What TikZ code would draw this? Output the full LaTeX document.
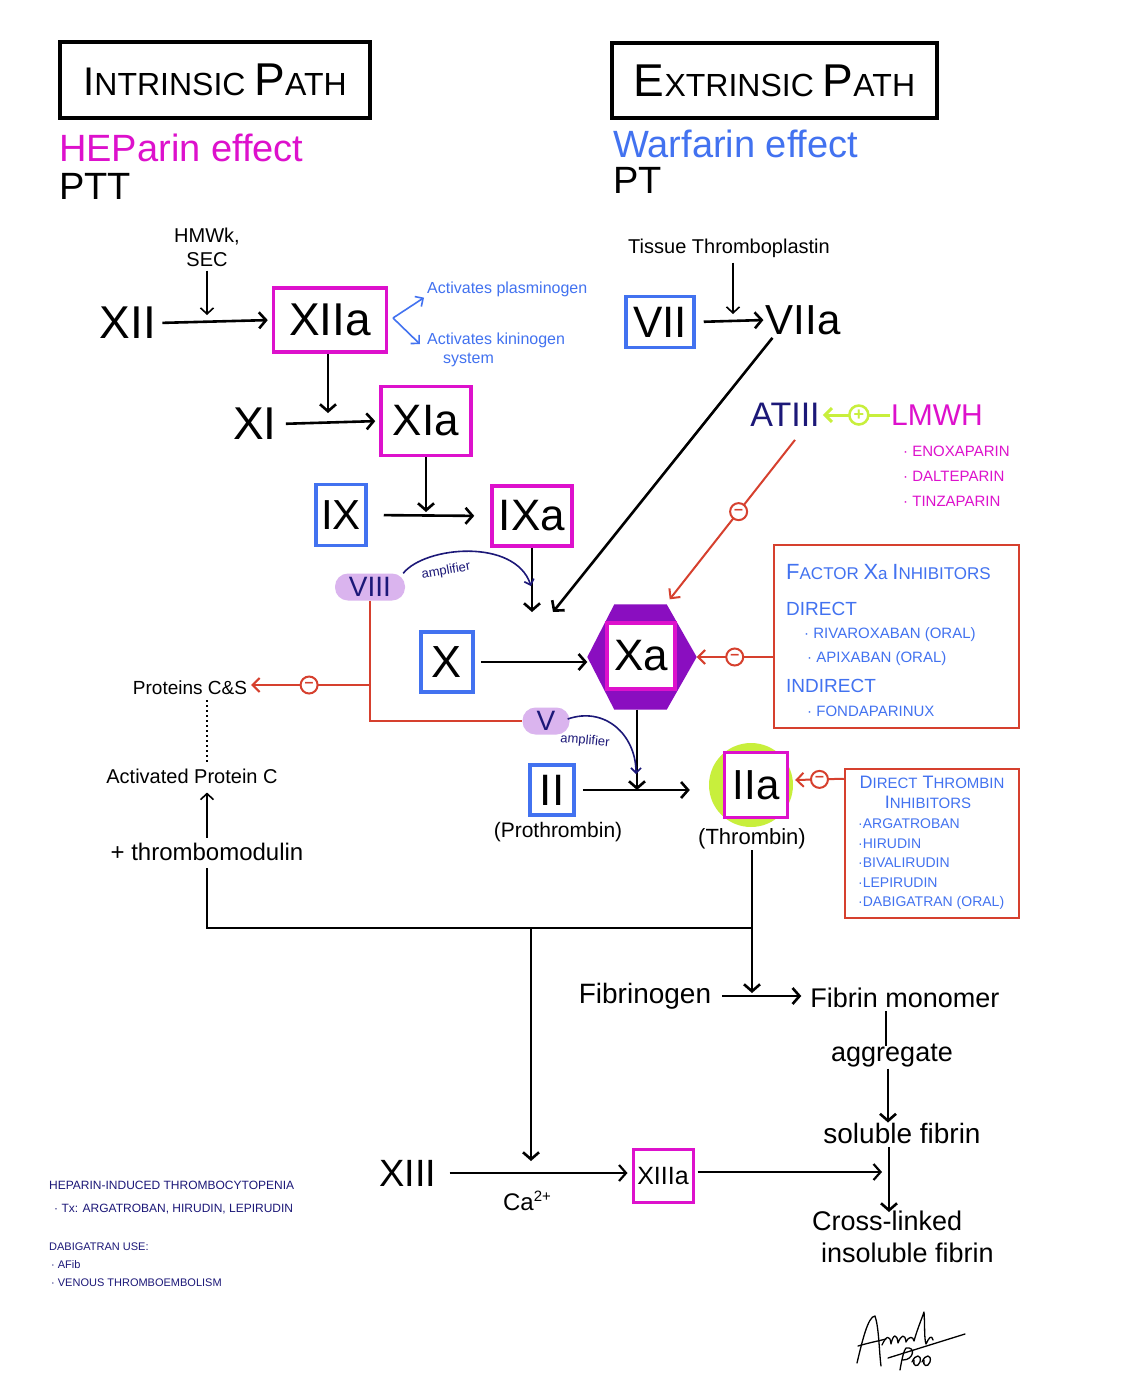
\documentclass[tikz,border=0pt]{standalone}
\usepackage{fontspec}
\setmainfont{Liberation Sans}
\usetikzlibrary{arrows.meta,calc}
\definecolor{mag}{HTML}{DD11CC}
\definecolor{blu}{HTML}{4272F0}
\definecolor{navy}{HTML}{1C1878}
\definecolor{rd}{HTML}{D6402E}
\definecolor{lime}{HTML}{C8EF3C}
\definecolor{lav}{HTML}{DAB4EE}
\definecolor{purp}{HTML}{8A0EC0}
\newcommand\fs[1]{\fontsize{#1}{\fpeval{round(#1*1.2)}}\selectfont}
\begin{document}
\begin{tikzpicture}[x=1pt,y=-1pt,
  txt/.style={inner sep=1pt,font=\fs{#1}},
  titlebox/.style={draw,line width=3.5pt,inner sep=0pt},
  mbox/.style={draw=mag,line width=3.5pt,inner sep=0pt,fill=white},
  bbox/.style={draw=blu,line width=3.5pt,inner sep=0pt},
  rbox/.style={draw=rd,line width=2.5pt,inner sep=0pt},
  pill/.style={fill=lav,rounded corners=13pt,inner sep=0pt,text=navy},
  arr/.style={line width=2.6pt,-{Straight Barb[length=7pt,width=16pt]}},
  tarr/.style={line width=1.6pt,-{Straight Barb[length=6pt,width=13pt]}},
  bline/.style={line width=2.6pt},
  barr/.style={draw=blu,line width=1.6pt,-{Straight Barb[length=6pt,width=12pt]}},
  rline/.style={draw=rd,line width=2pt},
  rarr/.style={draw=rd,line width=2pt,-{Straight Barb[length=7pt,width=14pt]}},
  namp/.style={draw=navy,line width=1.6pt,-{Straight Barb[length=5pt,width=10pt]}},
  minc/.style={circle,draw=rd,line width=2pt,fill=white,minimum size=17pt,inner sep=0pt,text=rd,font=\fs{16}\bfseries},
  plusc/.style={circle,draw=lime,line width=2.5pt,fill=white,minimum size=19pt,inner sep=0pt,text=lime,font=\fs{18}\bfseries},
]
\fill[white] (0,0) rectangle (1133,1400);
\useasboundingbox (0,0) rectangle (1133,1400);

% ---- titles
\node[titlebox,minimum width=310pt,minimum height=76pt,font=\fs{32}] (tI) at (215,80) {{\fs{40}I}NTRINSIC {\fs{46}P}ATH};
\node[titlebox,minimum width=325pt,minimum height=75pt,font=\fs{32}] (tE) at (774.5,80.5) {{\fs{46}E}XTRINSIC {\fs{46}P}ATH};
\node[txt=38,text=mag,anchor=west] (hep) at (58,148) {HEParin effect};
\node[txt=38,anchor=west] (ptt) at (58,186) {PTT};
\node[txt=38,text=blu,anchor=west] (war) at (612,144) {Warfarin effect};
\node[txt=38,anchor=west] (pt) at (612,180) {PT};

% ---- intrinsic cascade
\node[txt=20,align=center] (hmwk) at (207,247) {HMWk,\\SEC};
\node[txt=46] (XII) at (128,323) {XII};
\node[mbox,minimum width=113pt,minimum height=64pt,font=\fs{46}] (XIIa) at (330,320) {XIIa};
\draw[arr,shorten <=5pt,shorten >=4pt] (XII.east) -- (XIIa.west);
\draw[tarr] ($(hmwk.south)+(0,3)$) -- ($(hmwk.south |- XIIa.center)+(0,-5)$);

\coordinate (fork) at (393,318);
\node[txt=16,text=blu,anchor=west] (plas) at (426,289) {Activates plasminogen};
\node[txt=16,text=blu,anchor=north west,align=left] (kin) at (426,332) {Activates kininogen\\\hspace*{16pt}system};
\draw[barr] (fork) -- ($(plas.south west)+(-2,0)$);
\draw[barr] (fork) -- ($(kin.west)+(-6,-6)$);

\node[txt=46] (XI) at (255,424) {XI};
\node[mbox,minimum width=90pt,minimum height=69pt,font=\fs{44}] (XIa) at (426,421) {XIa};
\draw[arr,shorten >=8pt] ($(XIIa.south)+(-2,0)$) -- ($(XIIa.south |- XIa.center)+(-2,0)$);
\draw[arr,shorten <=8pt,shorten >=4pt] (XI.east) -- (XIa.west);

\node[bbox,minimum width=50pt,minimum height=61pt,font=\fs{42}] (IX) at (341,515) {IX};
\node[mbox,minimum width=80pt,minimum height=60pt,font=\fs{44}] (IXa) at (532,516) {IXa};
\draw[arr,shorten <=16pt,shorten >=16pt] (IX.east) -- (IXa.west);
\draw[arr,shorten >=3pt] (XIa.south) -- (XIa.south |- IX.center);

\coordinate (cA) at (532,612);
\draw[arr] (IXa.south) -- (cA);

\node[pill,minimum width=70pt,minimum height=27pt,font=\fs{28}] (VIII) at (370,587) {VIII};
\draw[namp] ($(VIII.north east)+(-2,0)$) .. controls (425,546) and (515,538) .. (531,586);
\node[txt=13,text=navy,rotate=10] (amp1) at (446,571) {amplifier};

% ---- extrinsic
\node[txt=20] (tiss) at (729,248) {Tissue Thromboplastin};
\node[bbox,minimum width=68pt,minimum height=51pt,font=\fs{44}] (VII) at (660,322) {VII};
\node[txt=42] (VIIa) at (803,320) {VIIa};
\draw[arr,shorten <=8pt,shorten >=1pt] (VII.east) -- (VIIa.west);
\draw[tarr] ($(tiss.south)+(4,4)$) -- ($(tiss.south |- VII.center)+(4,-8)$);
\coordinate (cB) at (553,612);
\draw[arr] ($(VIIa.south west)+(8,2)$) -- (cB);

% ---- ATIII / LMWH
\node[txt=34,text=navy] (AT) at (785,415) {ATIII};
\node[txt=30,text=mag] (LMWH) at (937,415) {LMWH};
\draw[draw=lime,line width=3pt,-{Straight Barb[length=7pt,width=14pt]},shorten >=2pt] (LMWH.west) -- (AT.east) node[plusc,pos=0.45] {+};
\node[text=mag,anchor=north west,align=left,inner sep=1pt,font=\fontsize{15}{25}\selectfont] (lmwhl) at (902,445) {· ENOXAPARIN\\· DALTEPARIN\\· TINZAPARIN};

% ---- Xa
\node[minimum width=109pt,minimum height=105pt,inner sep=0pt] (XaHex) at (642,657) {};
\fill[purp] (XaHex.west) -- ($(XaHex.north west)+(27,0)$) -- ($(XaHex.north east)+(-30,0)$) -- (XaHex.east) -- ($(XaHex.south east)+(-30,0)$) -- ($(XaHex.south west)+(27,0)$) -- cycle;
\node[mbox,minimum width=68pt,minimum height=66pt,font=\fs{44}] (Xa) at (641,656) {Xa};
\node[bbox,minimum width=52pt,minimum height=60pt,font=\fs{45}] (X) at (447,662) {X};
\draw[arr,shorten <=6pt] (X.east) -- (XaHex.west |- X.east);

\draw[rarr] ($(AT.south)+(10,12)$) -- ($(XaHex.north east)+(-27,-5)$) node[minc,pos=0.45] {–};

\node[rbox,minimum width=245pt,minimum height=183pt] (FXa) at (896.5,636.5) {};
\node[txt=17,text=blu,anchor=west] (fx1) at (785,572) {{\fs{22}F}ACTOR {\fs{22}X}a {\fs{22}I}NHIBITORS};
\node[txt=19,text=blu,anchor=west] (fx2) at (785,609) {DIRECT};
\node[txt=15,text=blu,anchor=west] (fx3) at (803,635) {· RIVAROXABAN (ORAL)};
\node[txt=15,text=blu,anchor=west] (fx4) at (806,659) {· APIXABAN (ORAL)};
\node[txt=19,text=blu,anchor=west] (fx5) at (785,686) {INDIRECT};
\node[txt=15,text=blu,anchor=west] (fx6) at (806,711) {· FONDAPARINUX};
\draw[rarr] (FXa.west |- XaHex.east) -- (XaHex.east) node[minc,pos=0.5] {–};

% ---- II / IIa
\node[bbox,minimum width=44pt,minimum height=50pt,font=\fs{44}] (II) at (552,790) {II};
\node[txt=21] (proth) at (558,832) {(Prothrombin)};
\node[circle,fill=lime,minimum size=84pt,inner sep=0pt] (IIac) at (751,785) {};
\node[mbox,minimum width=63pt,minimum height=65pt,font=\fs{42}] (IIa) at (756,785) {IIa};
\node[txt=22] (thromb) at (752,839) {(Thrombin)};
\draw[arr,shorten <=7pt,shorten >=19pt] (II.east) -- (IIac.west |- II.east);
\coordinate (cC) at (637,790);
\draw[arr] ($(XaHex.south)+(-5,0)$) -- (cC);

\node[pill,minimum width=47pt,minimum height=27pt,font=\fs{28}] (V) at (546,721) {V};
\draw[namp] ($(V.east)+(-2,-2)$) .. controls (605,706) and (636,735) .. (636,774);
\node[txt=13,text=navy,rotate=-5] (amp2) at (585,741) {amplifier};

\node[rbox,minimum width=174pt,minimum height=149pt] (DTI) at (932,843.5) {};
\node[text=blu,inner sep=1pt,font=\fs{18}] (dt1) at (932,782) {D{\fs{15}IRECT} T{\fs{15}HROMBIN}};
\node[text=blu,inner sep=1pt,font=\fs{18}] (dt2) at (928,802) {I{\fs{15}NHIBITORS}};
\node[text=blu,anchor=north west,align=left,inner sep=1pt,font=\fontsize{14}{19.5}\selectfont] (dtl) at (857,818) {·ARGATROBAN\\·HIRUDIN\\·BIVALIRUDIN\\·LEPIRUDIN\\·DABIGATRAN (ORAL)};
\draw[rarr] ($(DTI.north west)+(0,11)$) -- ($(IIac.east)+(2,-5)$) node[minc,pos=0.5] {–};

% ---- protein C
\node[txt=19] (ProtCS) at (190,688) {Proteins C\&S};
\node[txt=20] (APC) at (192,776) {Activated Protein C};
\node[txt=24] (tm) at (207,852) {+ thrombomodulin};
\draw[rline] (VIII.south) -- (VIII.south |- V.west) -- (V.west);
\coordinate (br) at (370,685);
\draw[rarr,shorten >=3pt] (br) -- (ProtCS.east |- br) node[minc,pos=0.5] {–};
\draw[line width=2pt,dash pattern=on 2pt off 3pt] ($(ProtCS.south)+(17,4)$) -- ($(APC.north)+(15,-4)$);
\draw[tarr,shorten <=4pt,shorten >=8pt] (tm.north) -- (tm.north |- APC.south);

% ---- common pathway
\coordinate (j1) at (207,928);
\coordinate (j2) at (531,928);
\coordinate (j3) at (752,928);
\draw[bline] ($(tm.south)+(0,6)$) -- (tm.south |- j1) -- (j3) -- (thromb.south);

\node[txt=28] (fibgn) at (645,996) {Fibrinogen};
\node[txt=27] (fmono) at (905,998) {Fibrin monomer};
\draw[arr,shorten <=10pt,shorten >=8pt] (fibgn.east) -- (fmono.west |- fibgn.east);
\draw[arr,shorten >=3pt] (j3) -- (j3 |- fibgn.east);
\node[txt=27] (agg) at (892,1056) {aggregate};
\draw[bline] ($(fmono.south)+(-19,2)$) -- ($(agg.north)+(-6,3)$);
\node[txt=28] (sol) at (902,1133) {soluble fibrin};
\draw[arr] ($(agg.south)+(-4,0)$) -- ($(sol.north)+(-14,1)$);
\node[txt=27,align=left,anchor=north west] (cross) at (811,1210) {Cross-linked\\\hspace*{9pt}insoluble fibrin};
\draw[arr] ($(sol.south)+(-13,3)$) -- ($(cross.north west)+(78,2)$);

\node[txt=38] (XIII) at (408,1173) {XIII};
\node[mbox,line width=3pt,minimum width=60pt,minimum height=53pt,font=\fs{25}] (XIIIa) at (663,1176) {XIIIa};
\node[inner sep=1pt,font=\fs{24}] (ca) at (527,1201) {Ca{\raisebox{9pt}{\fs{15}2+}}};
\draw[arr,line width=2.2pt,shorten <=12pt,shorten >=4pt] (XIII.east) -- (XIIIa.west |- XIII.east);
\draw[arr,shorten >=12pt] (j2) -- (j2 |- XIII.center);
\coordinate (cX) at (882,1172);
\draw[arr,line width=2.2pt,shorten <=3pt] (XIIIa.east |- cX) -- (cX);

% ---- notes
\node[txt=12,text=navy,anchor=west] (hit1) at (48,1185) {HEPARIN-INDUCED THROMBOCYTOPENIA};
\node[txt=12,text=navy,anchor=west] (hit2) at (53,1209) {· Tx: ARGATROBAN, HIRUDIN, LEPIRUDIN};
\node[txt=11,text=navy,anchor=west] (dab1) at (48,1247) {DABIGATRAN USE:};
\node[txt=11,text=navy,anchor=west] (dab2) at (50,1265) {· AFib};
\node[txt=11,text=navy,anchor=west] (dab3) at (50,1283) {· VENOUS THROMBOEMBOLISM};

% ---- signature
\begin{scope}[line width=1.3pt,line cap=round,line join=round]
\draw (857,1363) .. controls (862,1342) and (868,1316) .. (875,1316) .. controls (879,1328) and (879,1350) .. (881,1366);
\draw (858,1346) .. controls (868,1343) and (878,1341) .. (886,1339);
\draw (882,1345) .. controls (886,1336) and (890,1334) .. (891,1344) .. controls (893,1334) and (897,1333) .. (898,1343) .. controls (901,1335) and (905,1333) .. (906,1342) .. controls (909,1336) and (913,1336) .. (914,1341) .. controls (917,1330) and (922,1318) .. (924,1312) .. controls (925,1325) and (924,1338) .. (926,1344) .. controls (929,1338) and (931,1334) .. (933,1340);
\draw (900,1370) .. controls (902,1358) and (904,1350) .. (906,1348) .. controls (916,1346) and (914,1360) .. (903,1360);
\draw (912,1362) .. controls (915,1354) and (922,1354) .. (920,1362) .. controls (918,1368) and (912,1366) .. (914,1360);
\draw (922,1362) .. controls (925,1354) and (932,1354) .. (930,1362) .. controls (928,1368) and (922,1366) .. (924,1360);
\draw (888,1358) -- (965,1334);
\end{scope}
\end{tikzpicture}
\end{document}
